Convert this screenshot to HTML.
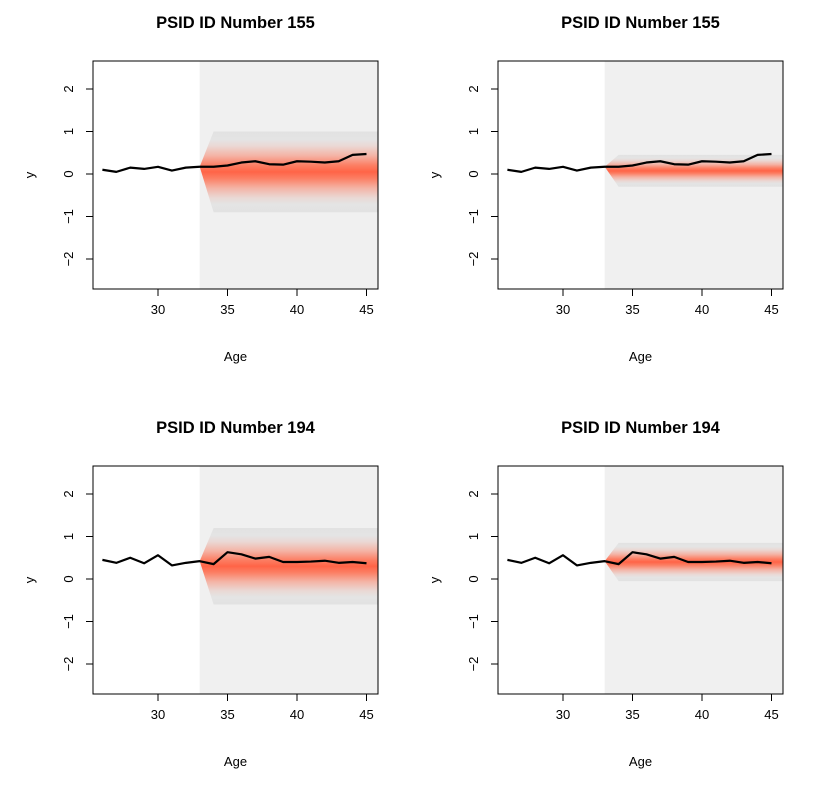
<!DOCTYPE html>
<html><head><meta charset="utf-8"><style>
html,body{margin:0;padding:0;background:#fff}
svg{display:block;font-family:"Liberation Sans",Arial,sans-serif}
</style></head><body>
<svg id="s" width="819" height="789" xmlns="http://www.w3.org/2000/svg">
<defs>
<linearGradient id="g" x1="0" y1="0" x2="0" y2="1">
<stop offset="0" stop-color="#e2e2e2"/>
<stop offset="0.1" stop-color="#e4e4e4"/>
<stop offset="0.18" stop-color="#ead8d4"/>
<stop offset="0.3" stop-color="#f4b3a5"/>
<stop offset="0.42" stop-color="#fc7e63"/>
<stop offset="0.5" stop-color="#ff6447"/>
<stop offset="0.58" stop-color="#fc7e63"/>
<stop offset="0.7" stop-color="#f4b3a5"/>
<stop offset="0.82" stop-color="#ead8d4"/>
<stop offset="0.9" stop-color="#e4e4e4"/>
<stop offset="1" stop-color="#e2e2e2"/>
</linearGradient>
</defs>
</svg>
<script>
const s=document.getElementById('s');const NS='http://www.w3.org/2000/svg';
function el(t,a,txt){const e=document.createElementNS(NS,t);for(const k in a)e.setAttribute(k,a[k]);if(txt!==undefined)e.textContent=txt;s.appendChild(e);return e;}
const d1=[0.1,0.05,0.15,0.12,0.17,0.08,0.15,0.17,0.17,0.2,0.27,0.3,0.23,0.22,0.3,0.29,0.27,0.3,0.45,0.47];
const d2=[0.45,0.38,0.5,0.37,0.56,0.32,0.38,0.42,0.35,0.63,0.58,0.48,0.52,0.4,0.4,0.41,0.43,0.38,0.4,0.37];
const panels=[
 {ox:0,oy:0,id:'155',d:d1,hi:1.0,lo:-0.9},
 {ox:405,oy:0,id:'155',d:d1,hi:0.45,lo:-0.3},
 {ox:0,oy:405,id:'194',d:d2,hi:1.2,lo:-0.6},
 {ox:405,oy:405,id:'194',d:d2,hi:0.85,lo:-0.05}];
for(const p of panels){
 const X=a=>p.ox+158+(a-30)*13.9, Y=v=>p.oy+174-42.5*v;
 const L=p.ox+93,R=p.ox+378,T=p.oy+61,B=p.oy+289;
 el('rect',{x:X(33),y:T,width:R-X(33),height:B-T,fill:'#f0f0f0'});
 const c=p.d[7];
 el('polygon',{points:`${X(33)},${Y(c)} ${X(34)},${Y(p.hi)} ${R},${Y(p.hi)} ${R},${Y(p.lo)} ${X(34)},${Y(p.lo)}`,fill:'url(#g)'});
 el('polyline',{points:p.d.map((v,i)=>X(26+i)+','+Y(v)).join(' '),fill:'none',stroke:'#000','stroke-width':2.2,'stroke-linejoin':'round'});
 el('rect',{x:L,y:T,width:R-L,height:B-T,fill:'none',stroke:'#000','stroke-width':1});
 for(const a of [30,35,40,45]){el('line',{x1:X(a),y1:B,x2:X(a),y2:B+7,stroke:'#000'});el('text',{x:X(a),y:B+25,'font-size':13,'text-anchor':'middle'},String(a));}
 el('line',{x1:X(30),y1:B,x2:X(45),y2:B,stroke:'#000'});
 for(const v of [2,1,0,-1,-2]){el('line',{x1:L-7,y1:Y(v),x2:L,y2:Y(v),stroke:'#000'});
  el('text',{x:L-20,y:Y(v),'font-size':13,'text-anchor':'middle',transform:`rotate(-90 ${L-20} ${Y(v)})`},v<0?'\u2212'+(-v):String(v));}
 el('text',{x:(L+R)/2,y:p.oy+28,'font-size':16.5,'font-weight':'bold','text-anchor':'middle'},'PSID ID Number  '+p.id);
 el('text',{x:(L+R)/2,y:p.oy+361,'font-size':13,'text-anchor':'middle'},'Age');
 el('text',{x:p.ox+34,y:p.oy+175,'font-size':13,'text-anchor':'middle',transform:`rotate(-90 ${p.ox+34} ${p.oy+175})`},'y');
}
</script>
</body></html>
